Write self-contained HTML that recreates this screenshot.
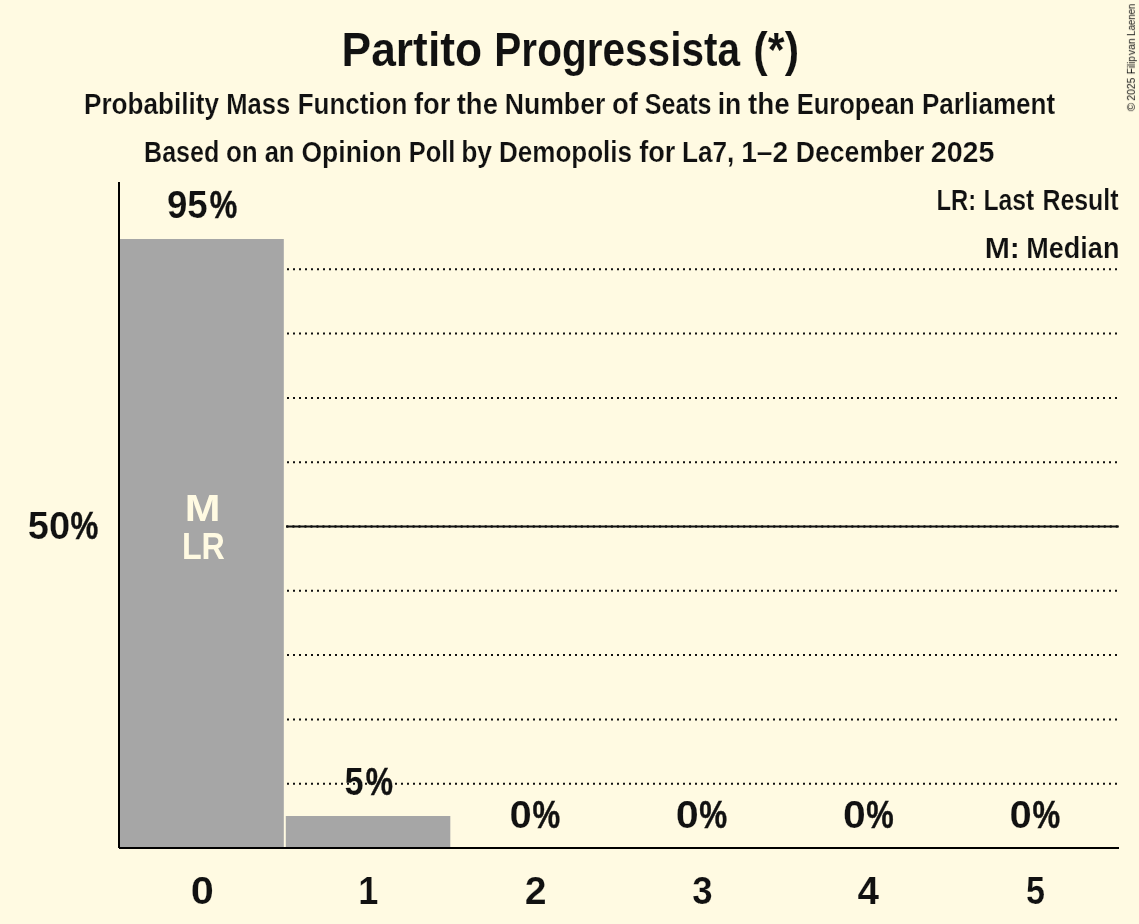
<!DOCTYPE html>
<html lang="en">
<head>
<meta charset="utf-8">
<title>Partito Progressista (*)</title>
<style>
  html, body { margin: 0; padding: 0; background: #FFFAE2; }
  body { width: 1139px; height: 924px; overflow: hidden; }
  svg { display: block; }
  text { font-family: "Liberation Sans", sans-serif; font-weight: bold; fill: #111111; }
  .txt { will-change: opacity; }
  .title { font-size: 47.9px; fill: #111111; stroke: #FFFAE2; stroke-width: 0.12px; }
  .sub { font-size: 28.85px; fill: #111111; stroke: #FFFAE2; stroke-width: 0.2px; }
  .lab { font-size: 38.45px; fill: #111111; stroke: #FFFAE2; stroke-width: 0.2px; }
  .inbar { font-size: 37.6px; fill: #FFFAE2; }
  .pct { font-size: 38.45px; fill: #111111; stroke: #111111; stroke-width: 0.45px; }
  .copy { font-size: 10.3px; font-weight: normal; fill: #111111; }
  .grid { stroke: #111111; stroke-width: 2; stroke-dasharray: 2 4; fill: none; }
</style>
</head>
<body>
<svg width="1139" height="924" viewBox="0 0 1139 924">
  <rect x="0" y="0" width="1139" height="924" fill="#FFFAE2"/>

  <!-- grid lines (10% steps, 50% emphasised) -->
  <g>
    <line class="grid" x1="287" x2="1118" y1="783.7" y2="783.7"/>
    <line class="grid" x1="287" x2="1118" y1="719.4" y2="719.4"/>
    <line class="grid" x1="287" x2="1118" y1="655.1" y2="655.1"/>
    <line class="grid" x1="287" x2="1118" y1="590.8" y2="590.8"/>
    <line x1="286" x2="1118.8" y1="526.5" y2="526.5" stroke="#111111" stroke-width="1.9"/>
    <line x1="287.4" x2="1118.8" y1="526.5" y2="526.5" stroke="#111111" stroke-width="2.6" stroke-dasharray="0.01 6" stroke-linecap="round"/>
    <line class="grid" x1="287" x2="1118" y1="462.2" y2="462.2"/>
    <line class="grid" x1="287" x2="1118" y1="397.9" y2="397.9"/>
    <line class="grid" x1="287" x2="1118" y1="333.6" y2="333.6"/>
    <line class="grid" x1="287" x2="1118" y1="269.3" y2="269.3"/>
  </g>

  <!-- bars -->
  <rect x="119" y="239" width="164.8" height="609" fill="#A6A6A6"/>
  <rect x="285.8" y="816" width="164.5" height="32" fill="#A6A6A6"/>

  <!-- axes -->
  <line x1="119" x2="119" y1="182" y2="848" stroke="#000000" stroke-width="2"/>
  <line x1="119" x2="1119" y1="848" y2="848" stroke="#000000" stroke-width="2"/>

  <g class="txt">
    <!-- title -->
    <text class="title" x="341.60" y="65.8" textLength="140.48" lengthAdjust="spacingAndGlyphs">Partito</text>
    <text class="title" x="494.32" y="65.8" textLength="245.76" lengthAdjust="spacingAndGlyphs">Progressista</text>
    <text class="title" x="753.34" y="65.8" textLength="45.77" lengthAdjust="spacingAndGlyphs">(*)</text>
    <!-- subtitle line 1 -->
    <text class="sub" x="83.96" y="113.7" textLength="135.04" lengthAdjust="spacingAndGlyphs">Probability</text>
    <text class="sub" x="226.31" y="113.7" textLength="64.04" lengthAdjust="spacingAndGlyphs">Mass</text>
    <text class="sub" x="297.77" y="113.7" textLength="109.49" lengthAdjust="spacingAndGlyphs">Function</text>
    <text class="sub" x="414.00" y="113.7" textLength="36.40" lengthAdjust="spacingAndGlyphs">for</text>
    <text class="sub" x="456.71" y="113.7" textLength="41.20" lengthAdjust="spacingAndGlyphs">the</text>
    <text class="sub" x="504.66" y="113.7" textLength="100.69" lengthAdjust="spacingAndGlyphs">Number</text>
    <text class="sub" x="611.96" y="113.7" textLength="25.94" lengthAdjust="spacingAndGlyphs">of</text>
    <text class="sub" x="644.79" y="113.7" textLength="66.75" lengthAdjust="spacingAndGlyphs">Seats</text>
    <text class="sub" x="717.65" y="113.7" textLength="23.61" lengthAdjust="spacingAndGlyphs">in</text>
    <text class="sub" x="748.03" y="113.7" textLength="41.83" lengthAdjust="spacingAndGlyphs">the</text>
    <text class="sub" x="796.64" y="113.7" textLength="117.93" lengthAdjust="spacingAndGlyphs">European</text>
    <text class="sub" x="922.00" y="113.7" textLength="133.17" lengthAdjust="spacingAndGlyphs">Parliament</text>
    <!-- subtitle line 2 -->
    <text class="sub" x="144.06" y="161.7" textLength="75.29" lengthAdjust="spacingAndGlyphs">Based</text>
    <text class="sub" x="225.91" y="161.7" textLength="31.77" lengthAdjust="spacingAndGlyphs">on</text>
    <text class="sub" x="264.63" y="161.7" textLength="29.91" lengthAdjust="spacingAndGlyphs">an</text>
    <text class="sub" x="301.48" y="161.7" textLength="100.13" lengthAdjust="spacingAndGlyphs">Opinion</text>
    <text class="sub" x="408.79" y="161.7" textLength="46.62" lengthAdjust="spacingAndGlyphs">Poll</text>
    <text class="sub" x="461.14" y="161.7" textLength="30.93" lengthAdjust="spacingAndGlyphs">by</text>
    <text class="sub" x="498.98" y="161.7" textLength="133.04" lengthAdjust="spacingAndGlyphs">Demopolis</text>
    <text class="sub" x="639.20" y="161.7" textLength="36.24" lengthAdjust="spacingAndGlyphs">for</text>
    <text class="sub" x="681.88" y="161.7" textLength="52.45" lengthAdjust="spacingAndGlyphs">La7,</text>
    <text class="sub" x="741.15" y="161.7" textLength="46.90" lengthAdjust="spacingAndGlyphs">1–2</text>
    <text class="sub" x="795.82" y="161.7" textLength="128.64" lengthAdjust="spacingAndGlyphs">December</text>
    <text class="sub" x="930.74" y="161.7" textLength="63.67" lengthAdjust="spacingAndGlyphs">2025</text>
    <!-- legend -->
    <text class="sub" x="936.55" y="209.7" textLength="39.67" lengthAdjust="spacingAndGlyphs">LR:</text>
    <text class="sub" x="983.40" y="209.7" textLength="50.95" lengthAdjust="spacingAndGlyphs">Last</text>
    <text class="sub" x="1042.45" y="209.7" textLength="76.11" lengthAdjust="spacingAndGlyphs">Result</text>
    <text class="sub" x="984.65" y="257.7" textLength="35.32" lengthAdjust="spacingAndGlyphs">M:</text>
    <text class="sub" x="1026.27" y="257.7" textLength="93.14" lengthAdjust="spacingAndGlyphs">Median</text>
    <!-- value labels -->
    <text class="lab" x="166.94" y="218.2" textLength="40.80" lengthAdjust="spacingAndGlyphs">95</text>
    <text class="pct" x="209.75" y="218.2" textLength="27.48" lengthAdjust="spacingAndGlyphs">%</text>
    <text class="lab" x="344.49" y="795.3" textLength="19.18" lengthAdjust="spacingAndGlyphs">5</text>
    <text class="pct" x="365.70" y="795.3" textLength="27.24" lengthAdjust="spacingAndGlyphs">%</text>
    <text class="lab" x="509.45" y="828.2" textLength="22.25" lengthAdjust="spacingAndGlyphs">0</text>
    <text class="pct" x="532.49" y="828.2" textLength="27.69" lengthAdjust="spacingAndGlyphs">%</text>
    <text class="lab" x="675.86" y="828.2" textLength="23.01" lengthAdjust="spacingAndGlyphs">0</text>
    <text class="pct" x="699.27" y="828.2" textLength="27.92" lengthAdjust="spacingAndGlyphs">%</text>
    <text class="lab" x="842.90" y="828.2" textLength="22.77" lengthAdjust="spacingAndGlyphs">0</text>
    <text class="pct" x="866.28" y="828.2" textLength="27.48" lengthAdjust="spacingAndGlyphs">%</text>
    <text class="lab" x="1009.45" y="828.2" textLength="22.25" lengthAdjust="spacingAndGlyphs">0</text>
    <text class="pct" x="1032.49" y="828.2" textLength="27.69" lengthAdjust="spacingAndGlyphs">%</text>
    <!-- y axis label -->
    <text class="lab" x="27.77" y="538.6" textLength="42.33" lengthAdjust="spacingAndGlyphs">50</text>
    <text class="pct" x="70.49" y="538.6" textLength="27.78" lengthAdjust="spacingAndGlyphs">%</text>
    <!-- in-bar markers -->
    <text class="inbar" x="184.65" y="520.9" textLength="35.72" lengthAdjust="spacingAndGlyphs">M</text>
    <text class="inbar" x="181.88" y="558.8" textLength="43.02" lengthAdjust="spacingAndGlyphs">LR</text>
    <!-- x axis labels -->
    <text class="lab" x="190.89" y="904.2" textLength="23.10" lengthAdjust="spacingAndGlyphs">0</text>
    <text class="lab" x="358.29" y="904.2" textLength="20.10" lengthAdjust="spacingAndGlyphs">1</text>
    <text class="lab" x="524.85" y="904.2" textLength="21.83" lengthAdjust="spacingAndGlyphs">2</text>
    <text class="lab" x="692.13" y="904.2" textLength="20.38" lengthAdjust="spacingAndGlyphs">3</text>
    <text class="lab" x="857.42" y="904.2" textLength="21.58" lengthAdjust="spacingAndGlyphs">4</text>
    <text class="lab" x="1025.93" y="904.2" textLength="19.01" lengthAdjust="spacingAndGlyphs">5</text>
    <!-- copyright -->
    <g transform="translate(1134.9,111.2) rotate(-90)">
      <text class="copy" x="-0.25" y="0" textLength="8.60" lengthAdjust="spacingAndGlyphs">©</text>
      <text class="copy" x="10.51" y="0" textLength="23.06" lengthAdjust="spacingAndGlyphs">2025</text>
      <text class="copy" x="37.01" y="0" textLength="17.83" lengthAdjust="spacingAndGlyphs">Filip</text>
      <text class="copy" x="56.00" y="0" textLength="16.97" lengthAdjust="spacingAndGlyphs">van</text>
      <text class="copy" x="75.27" y="0" textLength="32.24" lengthAdjust="spacingAndGlyphs">Laenen</text>
    </g>
  </g>
</svg>
</body>
</html>
